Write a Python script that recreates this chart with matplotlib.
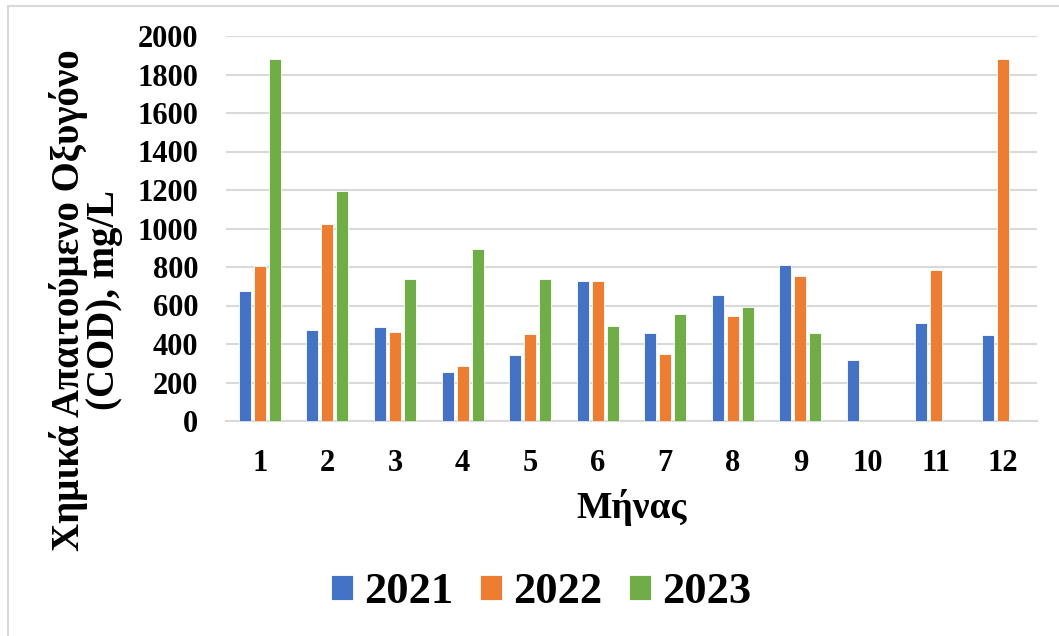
import matplotlib.pyplot as plt
import numpy as np
from matplotlib.patches import Rectangle

plt.rcParams['font.family'] = ['Liberation Serif', 'DejaVu Serif']
plt.rcParams['font.weight'] = 'bold'

months = [1, 2, 3, 4, 5, 6, 7, 8, 9, 10, 11, 12]
cod_2021 = [676, 475, 487, 253, 345, 726, 459, 652, 809, 315, 511, 445]
cod_2022 = [804, 1023, 464, 286, 451, 726, 350, 546, 754, np.nan, 785, 1882]
cod_2023 = [1882, 1196, 737, 891, 740, 492, 558, 591, 456, np.nan, np.nan, np.nan]
years = ['2021', '2022', '2023']
colors = ['#4472C4', '#ED7D31', '#70AD47']

W, H = 1059, 636
fig = plt.figure(figsize=(W / 100, H / 100), dpi=100)

# light chart border (top and left edges visible)
fig.patches.append(Rectangle((8 / W, -0.1), 1.2, (H - 6) / H + 0.1,
                             transform=fig.transFigure, fill=False,
                             edgecolor='#d9d9d9', linewidth=1.5))

ax = fig.add_axes([226 / W, 1 - 421 / H, (1037 - 226) / W, (421 - 36) / H])

x = np.arange(len(months))
bw = 0.178
step = 0.222
handles = []
for i, (vals, c, yr) in enumerate(zip([cod_2021, cod_2022, cod_2023], colors, years)):
    b = ax.bar(x + (i - 1) * step, vals, width=bw, color=c, edgecolor='white',
               linewidth=0.6, label=yr, zorder=3)
    handles.append(b)

ax.set_xlim(-0.5, len(months) - 0.5)
ax.set_ylim(0, 2000)
ax.set_yticks(range(0, 2001, 200))
ax.set_xticks(x)
ax.set_xticklabels([str(m) for m in months])
ax.tick_params(axis='y', length=0, pad=20, labelsize=22)
ax.tick_params(axis='x', length=0, pad=20, labelsize=22)
ax.grid(axis='y', color='#d9d9d9', linewidth=1.5, zorder=0)
for s in ['top', 'right', 'left']:
    ax.spines[s].set_visible(False)
ax.spines['bottom'].set_color('#d9d9d9')
ax.spines['bottom'].set_linewidth(1.5)

fig.text(632 / W, 1 - 508 / H, 'Μήνας', ha='center', va='center',
         fontsize=27, fontweight='bold')
fig.text(86 / W, 1 - 300 / H, 'Χημικά Απαιτούμενο Οξυγόνο\n(COD), mg/L',
         rotation=90, ha='center', va='center', fontsize=28,
         fontweight='bold', linespacing=0.9, multialignment='center')

fig.legend(handles=handles, labels=years, loc='center',
           bbox_to_anchor=(541 / W, 1 - 592 / H), ncol=3, frameon=False,
           prop={'size': 32, 'weight': 'bold'}, handlelength=0.5,
           handleheight=0.5, handletextpad=0.25, columnspacing=0.6)

fig.savefig('out.png', dpi=100)
